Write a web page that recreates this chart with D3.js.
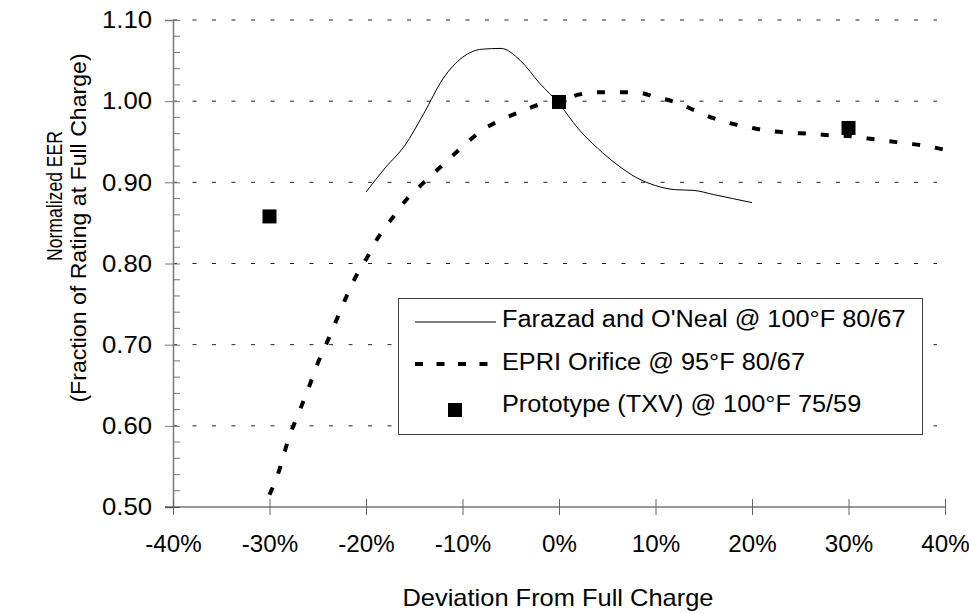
<!DOCTYPE html>
<html>
<head>
<meta charset="utf-8">
<script src="https://cdn.jsdelivr.net/npm/d3@7"></script>
<style>
  body { margin: 0; background: #fff; }
  text { font-family: Arial, "Liberation Sans", sans-serif; fill: #000; }
</style>
</head>
<body>
<div id="chart"></div>
<script>
//////////////////////////////////////////////////////////////////////////////
// data

var farazadX = [-20, -18, -16, -14, -12, -10, -8, -6, -4, -2, 0, 2, 4, 6, 8, 10, 12, 14, 16, 18, 20];
var farazadY = [0.888, 0.918, 0.945, 0.985, 1.028, 1.054, 1.064, 1.065, 1.050, 1.022, 0.997,
                0.966, 0.942, 0.922, 0.906, 0.896, 0.891, 0.890, 0.885, 0.880, 0.875];

var epriX = [-30, -29, -28, -27, -26, -25, -24, -23, -22, -21, -20, -19, -18, -17, -16, -14, -12, -10,
             -8, -6, -4, -2, 0, 2, 4, 6, 8, 10, 12, 14, 16, 18, 20, 22, 24, 26, 28, 30, 32, 34, 36, 38, 40];
var epriY = [0.515, 0.545, 0.585, 0.615, 0.645, 0.677, 0.704, 0.732, 0.760, 0.785, 0.805, 0.827, 0.845,
             0.860, 0.876, 0.900, 0.922, 0.944, 0.964, 0.977, 0.987, 0.996, 1.000, 1.008, 1.011, 1.011,
             1.011, 1.005, 0.999, 0.989, 0.979, 0.972, 0.967, 0.963, 0.961, 0.960, 0.958, 0.957, 0.954,
             0.951, 0.948, 0.945, 0.940];

var protoX = [-30, 0, 30];
var protoY = [0.858, 0.999, 0.967];

var xTicks = [-40, -30, -20, -10, 0, 10, 20, 30, 40];
var yTicks = [0.5, 0.6, 0.7, 0.8, 0.9, 1.0, 1.1];

var legendLabels = ["Farazad and O'Neal @ 100°F 80/67", "EPRI Orifice @ 95°F 80/67", "Prototype (TXV) @ 100°F 75/59"];

//////////////////////////////////////////////////////////////////////////////
// scales, helpers

var width = 969, height = 614;
var fontFamily = "Arial, 'Liberation Sans', sans-serif";

var xScale = d3.scaleLinear().domain([-40, 40]).range([173, 945]);
var yScale = d3.scaleLinear().domain([0.5, 1.1]).range([507, 20]);

var svg = d3.select("#chart").append("svg")
    .attr("width", width).attr("height", height);

function zip(xs, ys) {
    return xs.map(function(x, i) { return { x: x, y: ys[i] }; });
}

// the picture's text is a little wider or narrower than plain Arial
function stretch(sel, k) {
    sel.each(function() {
        var w = this.getComputedTextLength();
        d3.select(this).attr("textLength", w * k).attr("lengthAdjust", "spacingAndGlyphs");
    });
}

//////////////////////////////////////////////////////////////////////////////
// grid and axes

svg.append("g").selectAll("line")
    .data(yTicks.filter(function(d) { return d > 0.5; }))
    .enter().append("line")
    .attr("x1", xScale(-40)).attr("x2", 937)
    .attr("y1", function(d) { return yScale(d); })
    .attr("y2", function(d) { return yScale(d); })
    .attr("stroke", "#222").attr("stroke-width", 1)
    .attr("stroke-dasharray", "4,15.5");

var yAxis = d3.axisLeft(yScale).tickValues(yTicks)
    .tickFormat(d3.format(".2f")).tickSize(8).tickPadding(13);
var yG = svg.append("g").attr("transform", "translate(" + xScale(-40) + ",0)").call(yAxis);
yG.select(".domain").attr("stroke", "#777").attr("stroke-width", 1.5);
yG.selectAll(".tick line").attr("stroke", "#777").attr("x2", 7).attr("x1", -8);
yG.selectAll(".tick text").attr("font-size", 24).attr("font-family", fontFamily)
    .call(stretch, 1.07);

var minor = d3.range(0.52, 1.1, 0.02).filter(function(d) { return Math.abs(Math.round(d * 10) - d * 10) > 0.05; });
yG.append("g").selectAll("line").data(minor).enter().append("line")
    .attr("x1", 0).attr("x2", 7)
    .attr("y1", function(d) { return yScale(d); })
    .attr("y2", function(d) { return yScale(d); })
    .attr("stroke", "#777");

var xAxis = d3.axisBottom(xScale).tickValues(xTicks)
    .tickFormat(function(d) { return d + "%"; }).tickSize(8).tickPadding(21);
var xG = svg.append("g").attr("transform", "translate(0," + yScale(0.5) + ")").call(xAxis);
xG.select(".domain").attr("d", "M" + (xScale(-40) - 8) + ",0H" + xScale(40)).attr("stroke", "#333");
xG.selectAll(".tick line").attr("stroke", "#666").attr("y1", -8).attr("y2", 8);
xG.selectAll(".tick text").attr("font-size", 23).attr("font-family", fontFamily)
    .call(stretch, 1.05);

// axis titles
svg.append("text")
    .attr("x", 558).attr("y", 606)
    .attr("text-anchor", "middle").attr("font-size", 24)
    .text("Deviation From Full Charge")
    .call(stretch, 1.06);

svg.append("text")
    .attr("transform", "translate(62,196) rotate(-90)")
    .attr("text-anchor", "middle").attr("font-size", 22)
    .text("Normalized EER")
    .call(stretch, 0.8);
svg.append("text")
    .attr("transform", "translate(86,228) rotate(-90)")
    .attr("text-anchor", "middle").attr("font-size", 22)
    .text("(Fraction of Rating at Full Charge)")
    .call(stretch, 1.05);

//////////////////////////////////////////////////////////////////////////////
// series

var line = d3.line()
    .x(function(d) { return xScale(d.x); })
    .y(function(d) { return yScale(d.y); })
    .curve(d3.curveMonotoneX);

svg.append("path")
    .datum(zip(epriX, epriY))
    .attr("d", line)
    .attr("fill", "none").attr("stroke", "#000")
    .attr("stroke-width", 4).attr("stroke-dasharray", "8,15");

svg.append("path")
    .datum(zip(farazadX, farazadY))
    .attr("d", line)
    .attr("fill", "none").attr("stroke", "#000").attr("stroke-width", 1);

svg.append("g").selectAll("rect")
    .data(zip(protoX, protoY))
    .enter().append("rect")
    .attr("x", function(d) { return xScale(d.x) - 7; })
    .attr("y", function(d) { return yScale(d.y) - 7; })
    .attr("width", 14).attr("height", 14)
    .attr("fill", "#000");

//////////////////////////////////////////////////////////////////////////////
// legend

var lg = svg.append("g");
lg.append("rect")
    .attr("x", 398.5).attr("y", 298.5).attr("width", 524).attr("height", 136)
    .attr("fill", "#fff").attr("stroke", "#444");

var markY = [322, 364, 410];
var textY = [327, 370, 412];
lg.append("line").attr("x1", 415).attr("x2", 496).attr("y1", markY[0]).attr("y2", markY[0])
    .attr("stroke", "#000").attr("stroke-width", 1);
lg.append("line").attr("x1", 415).attr("x2", 500).attr("y1", markY[1]).attr("y2", markY[1])
    .attr("stroke", "#000").attr("stroke-width", 4).attr("stroke-dasharray", "8,13.5");
lg.append("rect").attr("x", 448).attr("y", markY[2] - 7).attr("width", 14).attr("height", 14)
    .attr("fill", "#000");

lg.selectAll("text.lab").data(legendLabels).enter().append("text")
    .attr("class", "lab")
    .attr("x", 502)
    .attr("y", function(d, i) { return textY[i]; })
    .attr("font-size", 23)
    .text(function(d) { return d; })
    .call(stretch, 1.1);
</script>
</body>
</html>
